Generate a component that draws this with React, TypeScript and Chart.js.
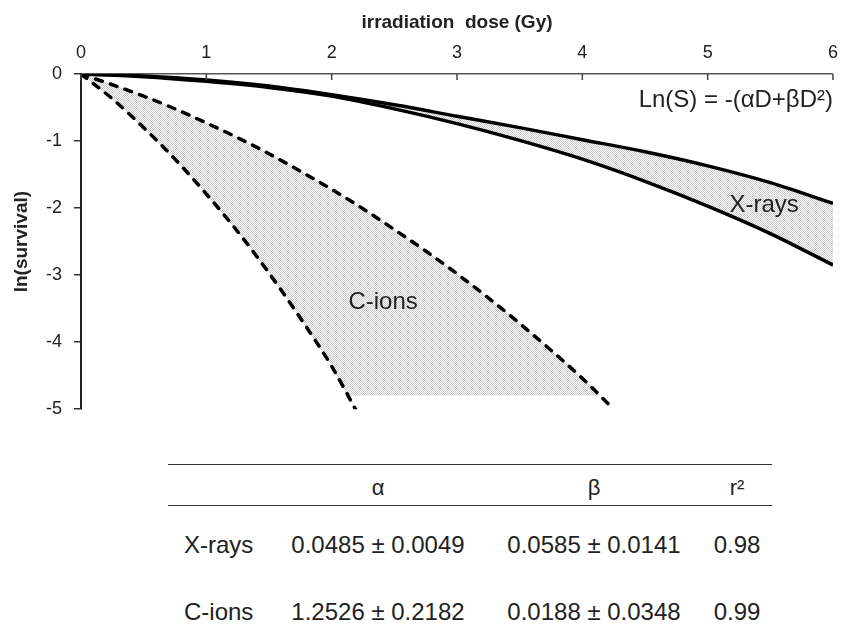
import React, { useEffect, useRef } from 'react';
import { Chart, registerables } from 'chart.js';

Chart.register(...registerables);

// ---------- data ----------
const xTickLabels = ['0', '1', '2', '3', '4', '5', '6'];
const yTickLabels = ['0', '-1', '-2', '-3', '-4', '-5'];

const xraysDose = [0, 0.5, 1, 1.5, 2, 2.5, 3, 3.5, 4, 4.5, 5, 5.5, 6];
const xraysUpper = [0, -0.03, -0.09, -0.18, -0.31, -0.46, -0.63, -0.8, -0.98, -1.16, -1.37, -1.62, -1.93];
const xraysLower = [0, -0.04, -0.11, -0.2, -0.33, -0.52, -0.74, -0.99, -1.27, -1.6, -1.97, -2.38, -2.85];

const cionsUpperDose = [0, 0.25, 0.5, 0.75, 1, 1.25, 1.5, 1.75, 2, 2.25, 2.5, 2.75, 3, 3.25, 3.5, 3.75, 4, 4.25];
const cionsUpper = [0, -0.16, -0.33, -0.52, -0.73, -0.95, -1.19, -1.45, -1.72, -2.01, -2.32, -2.64, -2.98, -3.34, -3.72, -4.12, -4.54, -5.0];

const cionsLowerDose = [0, 0.25, 0.5, 0.75, 1, 1.25, 1.5, 1.75, 2, 2.19];
const cionsLower = [0, -0.37, -0.8, -1.27, -1.79, -2.35, -2.97, -3.64, -4.36, -5.0];

// shaded C-ion band (stops at ln(S) = -4.8)
const cionsShadeUpperDose = [0, 0.25, 0.5, 0.75, 1, 1.25, 1.5, 1.75, 2, 2.25, 2.5, 2.75, 3, 3.25, 3.5, 3.75, 4, 4.14];
const cionsShadeUpper = [0, -0.16, -0.33, -0.52, -0.73, -0.95, -1.19, -1.45, -1.72, -2.01, -2.32, -2.64, -2.98, -3.34, -3.72, -4.12, -4.54, -4.8];
const cionsShadeLowerDose = [0, 0.25, 0.5, 0.75, 1, 1.25, 1.5, 1.75, 2, 2.13, 4.14];
const cionsShadeLower = [0, -0.37, -0.8, -1.27, -1.79, -2.35, -2.97, -3.64, -4.36, -4.8, -4.8];

// table
const tableColumns = ['α', 'β', 'r²'];
const tableRows = ['X-rays', 'C-ions'];
const alphaValues = ['0.0485 ± 0.0049', '1.2526 ± 0.2182'];
const betaValues = ['0.0585 ± 0.0141', '0.0188 ± 0.0348'];
const r2Values = ['0.98', '0.99'];

const equationText = 'Ln(S) = -(αD+βD²)';
const xraysLabel = 'X-rays';
const cionsLabel = 'C-ions';

const FONT = '"Liberation Sans", Arial, Helvetica, sans-serif';
const TEXT = '#222';

function zip(xs: number[], ys: number[]) {
  return xs.map((x, i) => ({ x, y: ys[i] }));
}

function makePattern(): CanvasPattern | string {
  const c = document.createElement('canvas');
  c.width = 2;
  c.height = 2;
  const g = c.getContext('2d');
  if (!g) return '#e2e2e2';
  g.fillStyle = '#ffffff';
  g.fillRect(0, 0, 2, 2);
  g.fillStyle = '#c8c8c8';
  g.fillRect(0, 0, 1, 1);
  g.fillRect(1, 1, 1, 1);
  const p = g.createPattern(c, 'repeat');
  return p || '#e2e2e2';
}

export default function App() {
  const ref = useRef<HTMLCanvasElement | null>(null);

  useEffect(() => {
    if (!ref.current) return;
    const pattern = makePattern();

    const inwardTicks = {
      id: 'inwardTicks',
      afterDatasetsDraw(chart: any) {
        const { ctx, chartArea } = chart;
        const x = chart.scales.x;
        ctx.save();
        ctx.strokeStyle = '#444';
        ctx.lineWidth = 1.5;
        x.ticks.forEach((t: any) => {
          const px = x.getPixelForValue(t.value);
          ctx.beginPath();
          ctx.moveTo(px, chartArea.top);
          ctx.lineTo(px, chartArea.top + 6);
          ctx.stroke();
        });
        ctx.restore();
      },
    };

    const textLabels = {
      id: 'textLabels',
      afterDatasetsDraw(chart: any) {
        const { ctx } = chart;
        const x = chart.scales.x;
        const y = chart.scales.y;
        const items = [
          { text: equationText, dx: 6, dy: -0.4, align: 'right' },
          { text: xraysLabel, dx: 5.45, dy: -1.96, align: 'center' },
          { text: cionsLabel, dx: 2.41, dy: -3.41, align: 'center' },
        ];
        ctx.save();
        ctx.fillStyle = TEXT;
        ctx.font = `24px ${FONT}`;
        ctx.textBaseline = 'middle';
        items.forEach((it) => {
          ctx.textAlign = it.align;
          ctx.fillText(it.text, x.getPixelForValue(it.dx), y.getPixelForValue(it.dy));
        });
        ctx.restore();
      },
    };

    const hidden = {
      borderColor: 'transparent',
      borderWidth: 0,
      pointRadius: 0,
    };

    const dashed = {
      borderColor: '#000',
      borderWidth: 3.5,
      borderDash: [7, 8.5],
      borderCapStyle: 'round',
      pointRadius: 0,
      fill: false,
      cubicInterpolationMode: 'monotone',
    };

    const chart = new Chart(ref.current, {
      type: 'line',
      data: {
        datasets: [
          {
            ...hidden,
            data: zip(cionsShadeUpperDose, cionsShadeUpper),
            fill: '+1',
            backgroundColor: pattern as any,
            cubicInterpolationMode: 'monotone',
          },
          {
            ...hidden,
            data: zip(cionsShadeLowerDose, cionsShadeLower),
            fill: false,
            tension: 0,
          },
          {
            data: zip(xraysDose, xraysUpper),
            borderColor: '#000',
            borderWidth: 3.5,
            pointRadius: 0,
            fill: '+1',
            backgroundColor: pattern as any,
            cubicInterpolationMode: 'monotone',
          },
          {
            data: zip(xraysDose, xraysLower),
            borderColor: '#000',
            borderWidth: 3.5,
            pointRadius: 0,
            fill: false,
            cubicInterpolationMode: 'monotone',
          },
          { ...dashed, data: zip(cionsUpperDose, cionsUpper) },
          { ...dashed, data: zip(cionsLowerDose, cionsLower) },
        ] as any,
      },
      options: {
        responsive: false,
        animation: false,
        events: [],
        layout: { padding: 0 },
        plugins: {
          legend: { display: false },
          tooltip: { enabled: false },
          filler: { drawTime: 'beforeDatasetsDraw' } as any,
        },
        scales: {
          x: {
            type: 'linear',
            position: 'top',
            min: 0,
            max: 6,
            afterFit: (s: any) => {
              s.height = 74;
            },
            ticks: {
              stepSize: 1,
              padding: 10,
              color: TEXT,
              font: { family: FONT, size: 18 },
              maxRotation: 0,
              callback: (_v: any, i: number) => xTickLabels[i],
            },
            grid: { drawOnChartArea: false, drawTicks: false },
            border: { display: true, color: '#555', width: 1.5 },
            title: {
              display: true,
              text: 'irradiation  dose (Gy)',
              color: TEXT,
              font: { family: FONT, size: 19, weight: 'bold' },
              padding: { top: 11, bottom: 0 },
            },
          },
          y: {
            type: 'linear',
            position: 'left',
            min: -5,
            max: 0,
            afterFit: (s: any) => {
              s.width = 81;
            },
            ticks: {
              stepSize: 1,
              padding: 12,
              color: TEXT,
              font: { family: FONT, size: 18 },
              callback: (v: any) => yTickLabels[Math.round(-Number(v))],
            },
            grid: { drawOnChartArea: false, drawTicks: true, tickLength: 7, color: '#333', lineWidth: 1.5 },
            border: { display: true, color: '#222', width: 2 },
            title: {
              display: true,
              text: 'ln(survival)',
              color: TEXT,
              font: { family: FONT, size: 19, weight: 'bold' },
              padding: { top: 10, bottom: 0 },
            },
          },
        },
      } as any,
      plugins: [inwardTicks, textLabels] as any,
    });

    return () => chart.destroy();
  }, []);

  const colCenters = [378, 594, 737];
  const headerY = 488;
  const rowYs = [545, 612];
  const rowValues = [alphaValues, betaValues, r2Values];
  const lh = 30;

  const cell = (text: string, cx: number, cy: number, size: number, key: string) => (
    <div
      key={key}
      style={{
        position: 'absolute',
        left: cx - 120,
        width: 240,
        top: cy - lh / 2,
        height: lh,
        lineHeight: `${lh}px`,
        textAlign: 'center',
        fontSize: size,
        whiteSpace: 'nowrap',
      }}
    >
      {text}
    </div>
  );

  return (
    <div
      style={{
        position: 'absolute',
        left: 0,
        top: 0,
        width: 843,
        height: 640,
        background: '#fff',
        fontFamily: FONT,
        color: TEXT,
        overflow: 'hidden',
      }}
    >
      <canvas ref={ref} width={848} height={432} style={{ position: 'absolute', left: 0, top: 0, width: 848, height: 432 }} />
      <div style={{ position: 'absolute', left: 168, width: 604, top: 464, borderTop: '1.5px solid #333' }} />
      <div style={{ position: 'absolute', left: 168, width: 604, top: 505, borderTop: '1.5px solid #333' }} />
      {tableColumns.map((c, i) => cell(c, colCenters[i], headerY, 22, `h${i}`))}
      {tableRows.map((r, ri) => (
        <div
          key={`r${ri}`}
          style={{
            position: 'absolute',
            left: 184,
            top: rowYs[ri] - lh / 2,
            height: lh,
            lineHeight: `${lh}px`,
            fontSize: 24,
            whiteSpace: 'nowrap',
          }}
        >
          {r}
        </div>
      ))}
      {tableRows.map((_r, ri) =>
        rowValues.map((vals, ci) => cell(vals[ri], colCenters[ci], rowYs[ri], 24, `v${ri}-${ci}`))
      )}
    </div>
  );
}
